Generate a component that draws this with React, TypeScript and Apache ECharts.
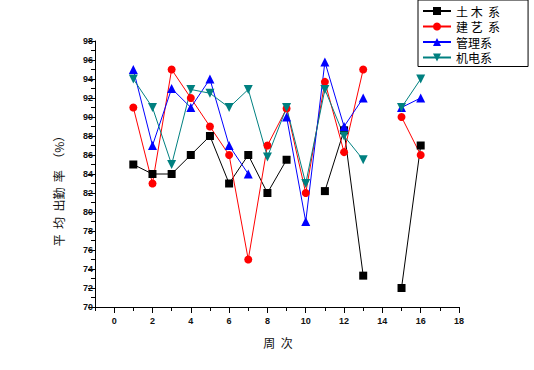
import React, { useEffect, useRef } from "react";
import * as echarts from "echarts";

const weeks = [1, 2, 3, 4, 5, 6, 7, 8, 9, 10, 11, 12, 13, 14, 15, 16];
const seriesNames = ["土 木  系", "建 艺  系", "管理系", "机电系"];
const tumu = [85, 84, 84, 86, 88, 83, 86, 82, 85.5, null, 82.2, 88.6, 73.3, null, 72, 87];
const jianyi = [91, 83, 95, 92, 89, 86, 75, 87, 90.9, 82, 93.7, 86.3, 95, null, 90, 86];
const guanli = [95, 87, 93, 91, 94, 87, 84, null, 90, 79, 95.8, 89, 92, null, 91, 92];
const jidian = [94, 91, 85, 92.9, 92.5, 91, 92.9, 85.8, 91, 83, 92.9, 88, 85.5, null, 91, 94];
const xMajorTicks = [0, 2, 4, 6, 8, 10, 12, 14, 16, 18];
const yAxisTitle = "平  均  出勤  率  （%）";
const xAxisTitle = "周  次";

const colors = ["#000000", "#FF0000", "#0000FF", "#008080"];
const symbols = ["rect", "circle", "triangle", "path://M0,0 L10,0 L5,9 Z"];
const symbolSizes = [8, 8, 9, 9];

export default function App() {
  const ref = useRef<HTMLDivElement>(null);
  useEffect(() => {
    if (!ref.current) return;
    const chart = echarts.init(ref.current, null, { renderer: "svg" });
    const all = [tumu, jianyi, guanli, jidian];
    const labelFont = { fontFamily: "Liberation Sans", fontSize: 9, fontWeight: "bold" as const, color: "#111" };
    chart.setOption({
      animation: false,
      backgroundColor: "#ffffff",
      grid: { left: 95, right: 75, top: 41, bottom: 63 },
      legend: {
        orient: "vertical",
        left: 418,
        top: 0,
        padding: [5, 28, 3, 4],
        itemGap: 3.5,
        itemWidth: 28,
        itemHeight: 10,
        borderColor: "#000",
        borderWidth: 1,
        textStyle: { fontFamily: "Noto Sans CJK SC", fontSize: 12, color: "#000" },
        data: seriesNames,
      },
      xAxis: [
        {
          type: "value",
          min: -1,
          max: 18,
          axisLine: { show: true, onZero: false, lineStyle: { color: "#000", width: 1 } },
          axisTick: { show: true, length: 6, customValues: xMajorTicks, lineStyle: { color: "#000" } },
          axisLabel: { customValues: xMajorTicks, margin: 9, ...labelFont },
          splitLine: { show: false },
        },
        {
          type: "value",
          min: -1,
          max: 18,
          interval: 1,
          position: "bottom",
          axisLine: { show: false, onZero: false },
          axisTick: { show: true, length: 4, lineStyle: { color: "#000" } },
          axisLabel: { show: false },
          splitLine: { show: false },
        },
      ],
      yAxis: {
        type: "value",
        min: 70,
        max: 98,
        interval: 2,
        axisLine: { show: true, onZero: false, lineStyle: { color: "#000", width: 1 } },
        axisTick: { show: true, length: 7, lineStyle: { color: "#000" } },
        minorTick: { show: true, splitNumber: 2, length: 4, lineStyle: { color: "#000" } },
        axisLabel: { margin: 2, ...labelFont },
        splitLine: { show: false },
      },
      graphic: [
        {
          type: "text",
          x: 58,
          y: 188,
          rotation: Math.PI / 2,
          style: {
            text: yAxisTitle,
            fontFamily: "Noto Sans CJK SC",
            fontSize: 12,
            fill: "#111",
            align: "center",
            verticalAlign: "middle",
          },
        },
        {
          type: "text",
          x: 278,
          y: 342,
          style: {
            text: xAxisTitle,
            fontFamily: "Noto Sans CJK SC",
            fontSize: 12,
            fill: "#111",
            align: "center",
            verticalAlign: "middle",
          },
        },
      ],
      series: all.map((vals, i) => ({
        name: seriesNames[i],
        type: "line",
        xAxisIndex: 0,
        data: weeks.map((w, j) => [w, vals[j]]),
        connectNulls: false,
        symbol: symbols[i],
        symbolSize: symbolSizes[i],
        lineStyle: { color: colors[i], width: 1 },
        itemStyle: { color: colors[i], borderWidth: 0 },
        emphasis: { disabled: true },
      })),
    });
    return () => chart.dispose();
  }, []);
  return <div ref={ref} style={{ position: "fixed", left: 0, top: 0, width: 534, height: 370 }} />;
}
